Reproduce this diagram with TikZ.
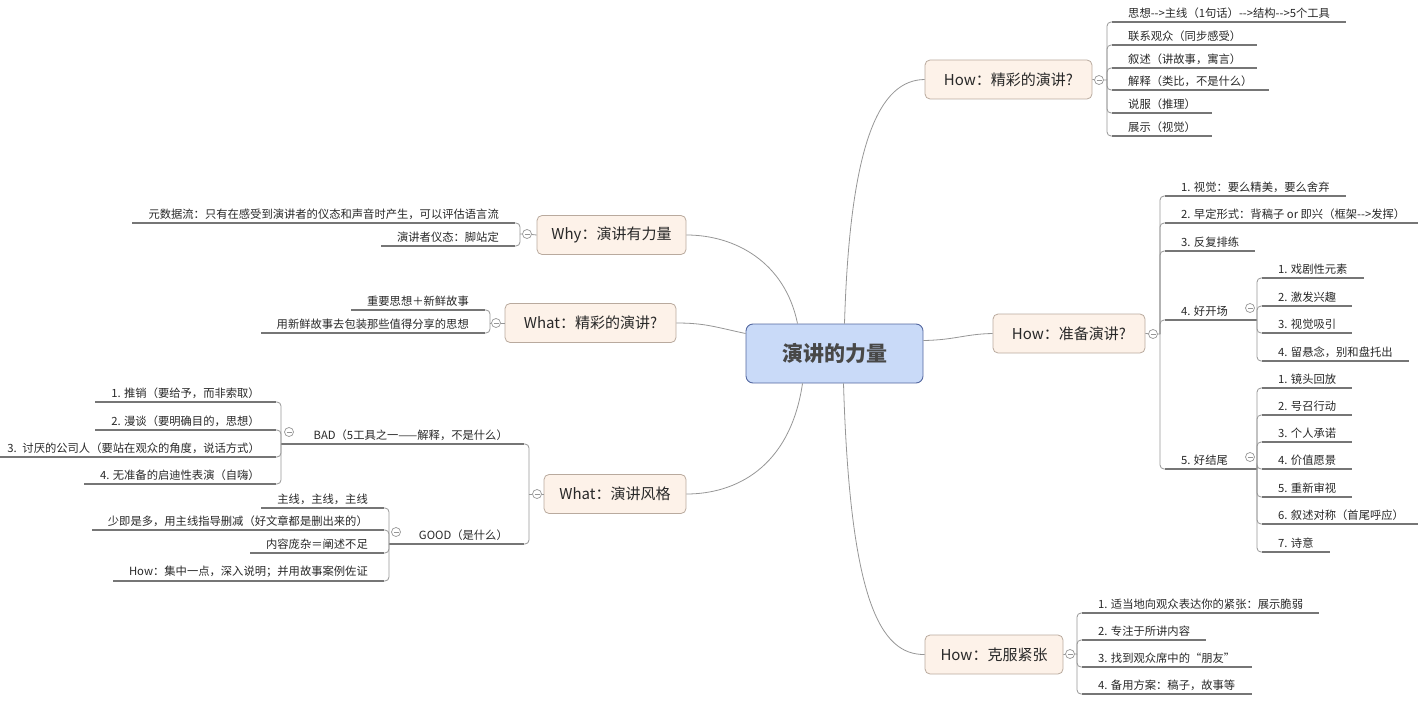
\documentclass[tikz,border=0pt]{standalone}
\usepackage{fontspec}
\setmainfont{Noto Sans CJK SC}
\definecolor{topicfill}{RGB}{253,242,233}
\definecolor{topicdraw}{RGB}{185,170,158}
\definecolor{centerfill}{RGB}{201,218,248}
\definecolor{centerdraw}{RGB}{84,104,160}
\definecolor{linec}{RGB}{150,150,150}
\definecolor{ulc}{RGB}{118,118,118}
\definecolor{txt}{RGB}{40,40,40}
\begin{document}
\begin{tikzpicture}[x=1pt,y=-1pt,
  central/.style={draw=centerdraw, fill=centerfill, rounded corners=7pt, line width=0.9pt,
    minimum width=177pt, minimum height=59pt, inner sep=0pt,
    font=\fontsize{21}{25}\selectfont\bfseries, text=txt!85},
  topic/.style={draw=topicdraw, fill=topicfill, rounded corners=5pt, line width=0.8pt,
    minimum height=39pt, inner xsep=4pt, inner ysep=0pt,
    font=\fontsize{15}{18}\selectfont, text=txt},
  rsub/.style={anchor=south west, inner xsep=16pt, inner ysep=3pt,
    font=\fontsize{11.3}{13}\selectfont, text=txt},
  lsub/.style={anchor=south east, inner xsep=16pt, inner ysep=3pt,
    font=\fontsize{11.3}{13}\selectfont, text=txt},
  fold/.style={circle, draw=linec, fill=white, minimum size=9pt, inner sep=0pt, line width=0.7pt,
    path picture={\draw[linec, line width=0.7pt] ([xshift=-2.5pt]path picture bounding box.center) -- ([xshift=2.5pt]path picture bounding box.center);}},
  conn/.style={draw=linec, line width=0.8pt},
  branch/.style={draw=linec, line width=0.8pt, rounded corners=4pt},
  uline/.style={draw=ulc, line width=1.4pt}
]
\useasboundingbox (0,0) rectangle (1418,706);

% ---------- central and main topics ----------
\node[central] (c) at (834.5,353.5) {演讲的力量};
\node[topic, minimum width=167pt] (t1) at (1008.5,79.5) {How：精彩的演讲?};
\node[topic, minimum width=152pt] (t2) at (1069,333.5) {How：准备演讲?};
\node[topic, minimum width=138pt] (t7) at (994,654.5) {How：克服紧张};
\node[topic, minimum width=149pt] (t3) at (611.5,235) {Why：演讲有力量};
\node[topic, minimum width=171pt] (t4) at (590.5,323) {What：精彩的演讲?};
\node[topic, minimum width=142pt] (t5) at (615,494) {What：演讲风格};

% ---------- connectors from the centre ----------
\draw[conn] ([xshift=10pt]c.north) .. controls (850,140) and (880,80) .. (t1.west);
\draw[conn] ([yshift=13pt]c.east) .. controls (955,340) and (965,334) .. (t2.west);
\draw[conn] ([xshift=9pt]c.south) .. controls (850,600) and (880,655) .. (t7.west);
\draw[conn] ([xshift=-37pt]c.north) .. controls (785,262) and (735,235) .. (t3.east);
\draw[conn] ([yshift=20pt]c.west) .. controls (715,327) and (705,323) .. (t4.east);
\draw[conn] ([xshift=-32pt]c.south) .. controls (790,468) and (735,494) .. (t5.east);

% ---------- fold buttons and hubs ----------
\node[fold] (f1) at (1099,80) {};
\node[fold] (f2) at (1153,334) {};
\node[fold] (f7) at (1070,654) {};
\node[fold] (f3) at (527,234) {};
\node[fold] (f4) at (496,323) {};
\node[fold] (f5) at (537,494) {};
\coordinate (h1) at (1107,80);
\coordinate (h2) at (1160,334);
\coordinate (h7) at (1077,654);
\coordinate (h3) at (520,234);
\coordinate (h4) at (490,323);
\coordinate (h5) at (529,494);
\draw[conn] (t1.east) -- (f1) -- (h1);
\draw[conn] (t2.east) -- (f2) -- (h2);
\draw[conn] (t7.east) -- (f7) -- (h7);
\draw[conn] (t3.west) -- (f3) -- (h3);
\draw[conn] (t4.west) -- (f4) -- (h4);
\draw[conn] (t5.west) -- (f5) -- (h5);

% ---------- How: 精彩的演讲 ----------
\node[rsub] (a1) at (1112,22) {思想-{}->主线（1句话）-{}->结构-{}->5个工具};
\node[rsub] (a2) at (1112,45) {联系观众（同步感受）};
\node[rsub] (a3) at (1112,68) {叙述（讲故事，寓言）};
\node[rsub] (a4) at (1112,90) {解释（类比，不是什么）};
\node[rsub] (a5) at (1112,113) {说服（推理）};
\node[rsub] (a6) at (1112,136) {展示（视觉）};
\foreach \n in {a1,a2,a3,a4,a5,a6}{
  \draw[branch] (h1) |- (\n.south west);
  \draw[uline] (\n.south west) -- (\n.south east);
}

% ---------- How: 准备演讲 ----------
\node[rsub] (p1) at (1165,196) {1. 视觉：要么精美，要么舍弃};
\node[rsub] (p2) at (1165,223) {2. 早定形式：背稿子 or 即兴（框架-{}->发挥）};
\node[rsub] (p3) at (1165,251) {3. 反复排练};
\node[rsub] (p4) at (1165,320) {4. 好开场};
\node[rsub] (p5) at (1165,469) {5. 好结尾};
\foreach \n in {p1,p2,p3,p4,p5}{
  \draw[branch] (h2) |- (\n.south west);
}
\foreach \n in {p1,p2,p3}{
  \draw[uline] (\n.south west) -- (\n.south east);
}
\coordinate (kh) at (1257,320);
\coordinate (jh) at (1257,469);
\draw[uline] (p4.south west) -- (kh);
\draw[uline] (p5.south west) -- (jh);
\node[fold] (fk) at (1250,308) {};
\node[fold] (fj) at (1250,457) {};

\node[rsub] (k1) at (1262,278) {1. 戏剧性元素};
\node[rsub] (k2) at (1262,306) {2. 激发兴趣};
\node[rsub] (k3) at (1262,333) {3. 视觉吸引};
\node[rsub] (k4) at (1262,361) {4. 留悬念，别和盘托出};
\foreach \n in {k1,k2,k3,k4}{
  \draw[branch] (kh) |- (\n.south west);
  \draw[uline] (\n.south west) -- (\n.south east);
}

\node[rsub] (j1) at (1262,388) {1. 镜头回放};
\node[rsub] (j2) at (1262,415) {2. 号召行动};
\node[rsub] (j3) at (1262,442) {3. 个人承诺};
\node[rsub] (j4) at (1262,469) {4. 价值愿景};
\node[rsub] (j5) at (1262,497) {5. 重新审视};
\node[rsub] (j6) at (1262,524) {6. 叙述对称（首尾呼应）};
\node[rsub] (j7) at (1262,552) {7. 诗意};
\foreach \n in {j1,j2,j3,j4,j5,j6,j7}{
  \draw[branch] (jh) |- (\n.south west);
  \draw[uline] (\n.south west) -- (\n.south east);
}

% ---------- How: 克服紧张 ----------
\node[rsub] (n1) at (1082,613) {1. 适当地向观众表达你的紧张：展示脆弱};
\node[rsub] (n2) at (1082,640) {2. 专注于所讲内容};
\node[rsub] (n3) at (1082,667) {3. 找到观众席中的“朋友”};
\node[rsub] (n4) at (1082,694) {4. 备用方案：稿子，故事等};
\foreach \n in {n1,n2,n3,n4}{
  \draw[branch] (h7) |- (\n.south west);
  \draw[uline] (\n.south west) -- (\n.south east);
}

% ---------- Why: 演讲有力量 ----------
\node[lsub] (w1) at (515,223) {元数据流：只有在感受到演讲者的仪态和声音时产生，可以评估语言流};
\node[lsub] (w2) at (515,246) {演讲者仪态：脚站定};
\foreach \n in {w1,w2}{
  \draw[branch] (h3) |- (\n.south east);
  \draw[uline] (\n.south east) -- (\n.south west);
}

% ---------- What: 精彩的演讲 ----------
\node[lsub] (s1) at (485,310) {重要思想＋新鲜故事};
\node[lsub] (s2) at (485,333) {用新鲜故事去包装那些值得分享的思想};
\foreach \n in {s1,s2}{
  \draw[branch] (h4) |- (\n.south east);
  \draw[uline] (\n.south east) -- (\n.south west);
}

% ---------- What: 演讲风格 ----------
\node[lsub] (bad) at (524,444) {BAD（5工具之一——解释，不是什么）};
\node[lsub] (good) at (524,544) {GOOD（是什么）};
\coordinate (bh) at (281,444);
\coordinate (gh) at (389,544);
\foreach \n in {bad,good}{
  \draw[branch] (h5) |- (\n.south east);
}
\draw[uline] (bad.south east) -- (bh);
\draw[uline] (good.south east) -- (gh);
\node[fold] (fb) at (289,432) {};
\node[fold] (fg) at (396,532) {};

\node[lsub] (b1) at (276,402) {1. 推销（要给予，而非索取）};
\node[lsub] (b2) at (276,430) {2. 漫谈（要明确目的，思想）};
\node[lsub] (b3) at (276,457) {3.\enspace 讨厌的公司人（要站在观众的角度，说话方式）};
\node[lsub] (b4) at (276,484) {4. 无准备的启迪性表演（自嗨）};
\foreach \n in {b1,b2,b3,b4}{
  \draw[branch] (bh) |- (\n.south east);
  \draw[uline] (\n.south east) -- (\n.south west);
}

\node[lsub] (g1) at (384,508) {主线，主线，主线};
\node[lsub] (g2) at (384,530) {少即是多，用主线指导删减（好文章都是删出来的）};
\node[lsub] (g3) at (384,553) {内容庞杂＝阐述不足};
\node[lsub] (g4) at (384,581) {How：集中一点，深入说明；并用故事案例佐证};
\foreach \n in {g1,g2,g3,g4}{
  \draw[branch] (gh) |- (\n.south east);
  \draw[uline] (\n.south east) -- (\n.south west);
}
\end{tikzpicture}
\end{document}
